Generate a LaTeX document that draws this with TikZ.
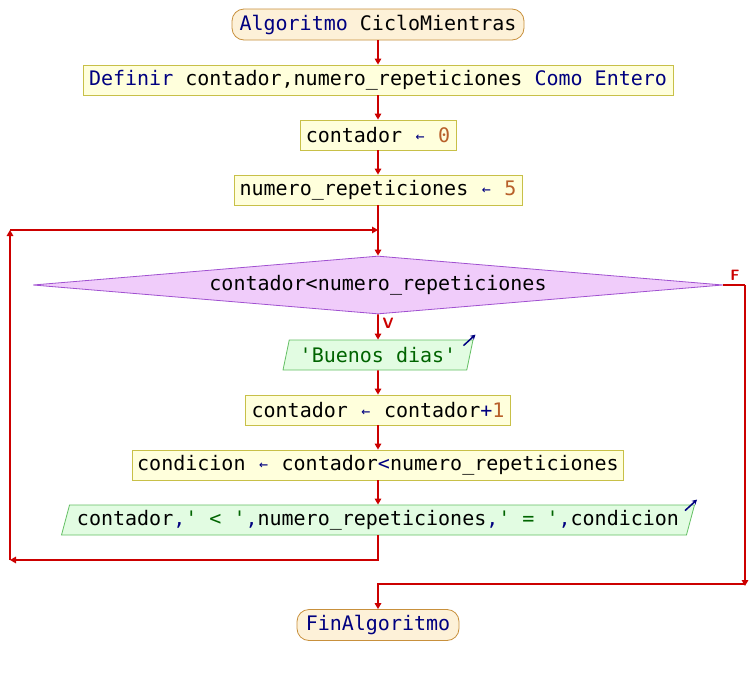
\documentclass[tikz,border=0pt]{standalone}
\usepackage{fontspec}
\setmonofont{DejaVu Sans Mono}
\usetikzlibrary{shapes.geometric,arrows.meta}
\definecolor{rojo}{HTML}{CC0000}
\definecolor{clave}{HTML}{000080}
\definecolor{numero}{HTML}{B8602A}
\definecolor{cadena}{HTML}{006400}
\definecolor{iniciofondo}{HTML}{FDF1D8}
\definecolor{inicioborde}{HTML}{C8903C}
\definecolor{procfondo}{HTML}{FFFFDC}
\definecolor{procborde}{HTML}{C8C048}
\definecolor{condfondo}{HTML}{F0CCFA}
\definecolor{condborde}{HTML}{A050D0}
\definecolor{iofondo}{HTML}{E2FCE2}
\definecolor{ioborde}{HTML}{64C064}
\newcommand{\kw}[1]{\textcolor{clave}{#1}}
\newcommand{\nm}[1]{\textcolor{numero}{#1}}
\newcommand{\str}[1]{\textcolor{cadena}{#1}}
\newcommand{\asig}{\makebox[12pt]{\textcolor{clave}{\raisebox{1pt}{\scalebox{0.75}{←}}}}}
\tikzset{
  every node/.style={font=\ttfamily\fontsize{20}{22}\selectfont, inner sep=0pt},
  terminal/.style={draw=inicioborde, fill=iniciofondo, rounded corners=12pt, minimum height=31pt, line width=0.8pt},
  proceso/.style={draw=procborde, fill=procfondo, minimum height=30pt, line width=0.8pt},
  decision/.style={diamond, draw=condborde, fill=condfondo, minimum width=690pt, minimum height=58pt, aspect=11.9, line width=0.8pt},
  entrada/.style={trapezium, trapezium left angle=68, trapezium right angle=112, trapezium stretches body, draw=ioborde, fill=iofondo, minimum height=30pt, line width=0.8pt},
  flecha/.style={draw=rojo, line width=1.6pt, -{Triangle[length=6pt,width=6.5pt]}},
  linea/.style={draw=rojo, line width=1.6pt},
  salida/.style={draw=clave, line width=1.5pt, -{Stealth[length=5pt,width=5.5pt]}},
  etiqueta/.style={text=rojo, font=\sffamily\bfseries\fontsize{15}{16}\selectfont}
}
\begin{document}
\begin{tikzpicture}[x=1pt,y=-1pt]
  \useasboundingbox[fill=white] (0,0) rectangle (756,675);
  % Bloques
  \node[terminal, minimum width=292pt] (inicio) at (378,24.5) {\kw{Algoritmo} CicloMientras};
  \node[proceso, minimum width=590pt] (definir) at (378,80) {\kw{Definir} contador,numero\_repeticiones \kw{Como} \kw{Entero}};
  \node[proceso, minimum width=156pt] (cero) at (378,135) {contador \asig{} \nm{0}};
  \node[proceso, minimum width=288pt] (cinco) at (378,190) {numero\_repeticiones \asig{} \nm{5}};
  \node[decision] (cond) at (378,285) {contador<numero\_repeticiones};
  \node[entrada, minimum width=190pt] (saludo) at (378,355) {\str{'Buenos dias'}};
  \node[proceso, minimum width=265pt] (incremento) at (378,410) {contador \asig{} contador\kw{+}\nm{1}};
  \node[proceso, minimum width=491pt] (condicion) at (378,465) {condicion \asig{} contador\kw{<}numero\_repeticiones};
  \node[entrada, minimum width=633pt] (mostrar) at (378,520) {contador\kw{,}\str{' < '}\kw{,}numero\_repeticiones\kw{,}\str{' = '}\kw{,}condicion};
  \node[terminal, minimum width=162pt] (fin) at (378,625) {\kw{FinAlgoritmo}};
  % Etiquetas V y F
  \node[etiqueta] (verdad) at (388,323) {V};
  \node[etiqueta] (falso) at (735,275) {F};
  % Puntos de las vueltas
  \coordinate (union) at (378,230);
  \coordinate (abajoizq) at (10,560);
  \coordinate (arribaizq) at (10,230);
  \coordinate (derecha) at (745,285);
  \coordinate (abajoder) at (745,584);
  % Conectores
  \draw[flecha] (inicio) -- (definir);
  \draw[flecha] (definir) -- (cero);
  \draw[flecha] (cero) -- (cinco);
  \draw[flecha] (cinco) -- (cond.north);
  \draw[flecha] (cond.south) -- (saludo);
  \draw[flecha] (saludo) -- (incremento);
  \draw[flecha] (incremento) -- (condicion);
  \draw[flecha] (condicion) -- (mostrar);
  \draw[flecha] (mostrar.south) |- (abajoizq);
  \draw[flecha] (abajoizq) -- (arribaizq);
  \draw[flecha] (arribaizq) -- (union);
  \draw[linea] (cond.east) -- (derecha);
  \draw[flecha] (derecha) -- ([yshift=-2pt]abajoder);
  \draw[flecha] (abajoder) -| (fin.north);
  % Flechas de salida
  \draw[salida] ([shift={(-10,6)}]saludo.top right corner) -- ++(12,-11);
  \draw[salida] ([shift={(-10,6)}]mostrar.top right corner) -- ++(12,-11);
\end{tikzpicture}
\end{document}
